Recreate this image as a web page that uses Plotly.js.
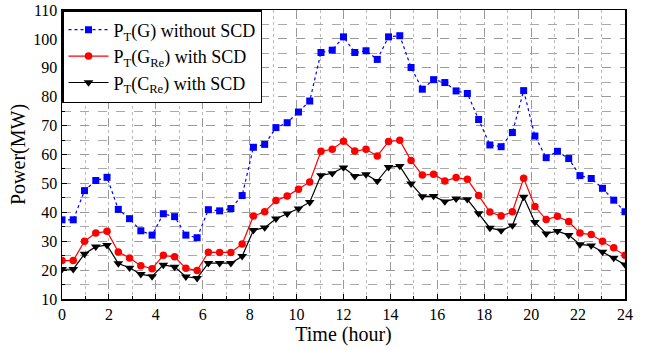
<!DOCTYPE html>
<html>
<head>
<meta charset="utf-8">
<script src="https://cdn.plot.ly/plotly-3.0.1.min.js"></script>
<style>html,body{margin:0;padding:0;background:#fff;}#chart{width:645px;height:350px;}</style>
</head>
<body>
<div id="chart"></div>
<script>
// Time of each sample (hours), 51 samples across the day
const timeHours = [0,0.48,0.96,1.44,1.92,2.4,2.88,3.36,3.84,4.32,4.8,5.28,5.76,6.24,6.72,7.2,7.68,8.16,8.64,9.12,9.6,10.08,10.56,11.04,11.52,12,12.48,12.96,13.44,13.92,14.4,14.88,15.36,15.84,16.32,16.8,17.28,17.76,18.24,18.72,19.2,19.68,20.16,20.64,21.12,21.6,22.08,22.56,23.04,23.52,24];
const ptG = [37.4,37.4,47.5,51.0,52.1,41.0,37.8,33.6,32.1,39.5,38.5,32.1,31.2,40.9,40.5,41.3,45.8,62.5,63.5,69.3,71.0,74.7,78.5,95.3,96.1,100.7,95.3,95.9,92.9,100.7,101.1,90.1,82.6,85.9,84.9,82.0,81.1,72.1,63.3,62.7,67.6,82.1,66.4,58.9,61.1,58.6,52.7,51.7,48.3,44.2,40.2];
const ptGRe = [23.3,23.3,30.0,32.8,33.4,26.3,24.2,21.5,20.5,25.1,24.6,20.6,19.9,26.2,26.1,26.1,29.0,38.7,40.2,44.1,45.6,48.0,50.5,61.1,61.8,64.6,61.2,61.8,59.5,64.5,64.9,57.9,52.9,53.2,50.8,52.0,51.4,45.8,40.1,38.7,40.2,51.8,42.0,37.5,38.6,36.8,32.8,32.3,30.0,27.7,25.1];
const ptCRe = [20.3,20.3,25.6,28.1,28.6,22.3,20.8,18.6,17.8,21.8,21.1,17.7,17.2,22.4,22.4,22.4,24.8,33.8,34.7,37.8,39.5,41.3,43.5,52.8,53.5,55.5,52.5,53.1,50.8,55.6,56.0,49.9,45.5,45.6,43.7,44.7,44.5,39.6,34.6,33.7,35.4,45.3,36.6,32.6,33.5,32.1,28.9,28.5,26.3,24.2,21.9];
const seriesNames = ["P<sub>T</sub>(G) without SCD","P<sub>T</sub>(G<sub>Re</sub>) with SCD","P<sub>T</sub>(C<sub>Re</sub>) with SCD"];
const xTickVals = [0,2,4,6,8,10,12,14,16,18,20,22,24];
const yTickVals = [10,20,30,40,50,60,70,80,90,100,110];

const font = "Liberation Serif";
const traces = [
  {x: timeHours, y: ptG, name: seriesNames[0], mode: "lines+markers",
   line: {color: "#0000ff", width: 1.2, dash: "dot"},
   marker: {symbol: "square", size: 7, color: "#0000ff"}},
  {x: timeHours, y: ptGRe, name: seriesNames[1], mode: "lines+markers",
   line: {color: "#ff0000", width: 1.2},
   marker: {symbol: "circle", size: 7.5, color: "#ff0000"}},
  {x: timeHours, y: ptCRe, name: seriesNames[2], mode: "lines+markers",
   line: {color: "#000000", width: 1.2},
   marker: {symbol: "triangle-down", size: 8.5, color: "#000000"}}
];
const axisCommon = {
  showline: true, linecolor: "#000", linewidth: 1.5, mirror: true,
  ticks: "inside", ticklen: 5, tickwidth: 1, tickcolor: "#000",
  showgrid: true, gridcolor: "#999", gridwidth: 1, griddash: "dash",
  zeroline: false,
  tickfont: {family: font, size: 16, color: "#000"}
};
const layout = {
  width: 645, height: 350,
  margin: {l: 62, r: 20, t: 10, b: 51},
  paper_bgcolor: "#fff", plot_bgcolor: "#fff",
  font: {family: font, color: "#000"},
  xaxis: Object.assign({}, axisCommon, {
    range: [0, 24], tickmode: "array", tickvals: xTickVals, ticktext: xTickVals.map(String),
    title: {text: "Time (hour)", font: {family: font, size: 20}, standoff: 0},
    minor: {dtick: 1, ticks: "inside", ticklen: 3, tickcolor: "#000", showgrid: true, gridcolor: "#bbb", griddash: "dot", gridwidth: 1}
  }),
  yaxis: Object.assign({}, axisCommon, {
    range: [10, 110], tickmode: "array", tickvals: yTickVals, ticktext: yTickVals.map(String),
    title: {text: "Power(MW)", font: {family: font, size: 20}, standoff: 2},
    minor: {dtick: 5, ticks: "inside", ticklen: 3, tickcolor: "#000", showgrid: true, gridcolor: "#aaa", griddash: "dash", gridwidth: 1}
  }),
  legend: {
    x: 0, y: 1, xanchor: "left", yanchor: "top",
    bgcolor: "#fff", bordercolor: "#000", borderwidth: 1.5,
    font: {family: font, size: 18, color: "#000"},
    tracegroupgap: 0, itemwidth: 40
  },
  showlegend: true
};
Plotly.newPlot("chart", traces, layout, {displayModeBar: false, staticPlot: true});
</script>
</body>
</html>
